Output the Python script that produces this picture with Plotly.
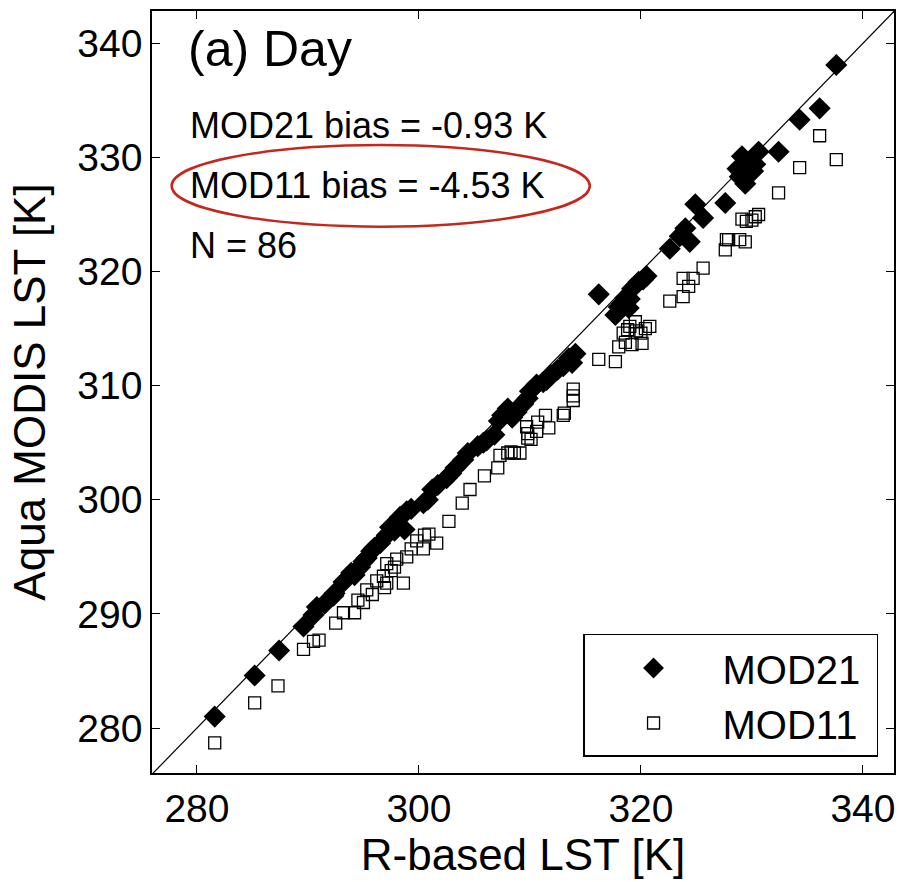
import plotly.graph_objects as go

# MOD21 (filled diamonds): R-based LST vs Aqua MODIS LST
mod21_x = [281.6, 285.2, 287.4, 289.6, 290.5, 290.8, 292.4, 292.3, 293.2, 293.9,
           294.7, 295.3, 295.7, 296.5, 297.1, 297.4, 298.3, 298.9, 298.7, 300.4,
           300.8, 301.7, 302.5, 302.9, 304.0, 304.4, 305.3, 306.1, 306.8, 307.5,
           308.0, 308.8, 309.4, 310.0, 310.6, 311.5, 311.9, 313.0, 313.5, 314.1,
           316.2, 317.7, 318.0, 318.6, 319.2, 319.8, 320.5, 322.6, 323.5, 324.0,
           324.4, 324.9, 325.6, 327.6, 328.9, 329.1, 329.5, 330.1, 329.4, 330.6,
           332.4, 334.3, 336.1, 337.6, 291.5, 294.2, 295.0, 296.0, 297.8, 299.3,
           301.2, 303.3, 305.8, 307.2, 308.4, 309.8, 311.2, 312.5, 313.8, 318.3,
           319.0, 318.9, 320.2, 329.8, 330.3, 328.7]
mod21_y = [281.0, 284.6, 286.8, 288.9, 289.9, 290.6, 291.8, 291.6, 292.8, 293.6,
           294.1, 294.9, 295.5, 296.2, 296.9, 297.6, 298.5, 299.0, 297.4, 299.7,
           300.0, 301.3, 301.9, 302.3, 303.5, 304.1, 304.7, 305.2, 305.7, 307.4,
           308.0, 307.7, 308.4, 309.5, 310.1, 310.5, 310.9, 311.7, 312.4, 312.8,
           318.0, 316.2, 316.9, 317.7, 318.5, 319.1, 319.6, 322.0, 323.1, 323.8,
           322.6, 325.9, 324.7, 326.0, 328.3, 330.1, 329.2, 328.8, 327.7, 330.5,
           330.5, 333.3, 334.3, 338.1, 290.9, 293.4, 294.6, 295.8, 297.3, 299.2,
           300.9, 302.8, 305.0, 306.9, 307.2, 308.9, 310.3, 311.4, 312.0, 317.2,
           317.6, 316.8, 319.3, 329.6, 329.4, 329.0]

# MOD11 (open squares)
mod11_x = [281.6, 285.2, 287.3, 289.6, 290.5, 291.0, 292.5, 293.2, 294.2, 294.5,
           295.3, 295.8, 297.1, 296.8, 297.1, 297.8, 298.6, 298.9, 299.3, 300.4,
           300.5, 301.6, 302.7, 303.9, 304.6, 305.9, 307.1, 307.3, 308.0, 308.6,
           309.1, 309.8, 309.8, 309.7, 310.6, 310.7, 311.7, 311.4, 313.0, 313.9,
           313.9, 313.9, 316.2, 317.7, 318.0, 318.4, 319.0, 319.5, 320.1, 319.2,
           320.0, 320.8, 322.6, 323.8, 324.3, 323.8, 324.7, 325.6, 327.6, 327.7,
           328.9, 329.4, 327.9, 329.1, 330.0, 330.6, 332.4, 334.3, 336.1, 337.6,
           296.2, 297.5, 296.9, 298.0, 299.8, 300.9, 310.1, 313.1, 318.8, 319.6,
           330.3, 329.5, 318.6, 295.0, 308.3, 320.4]
mod11_y = [278.7, 282.2, 283.7, 286.9, 287.6, 287.7, 289.2, 290.1, 290.1, 291.2,
           292.1, 291.7, 292.7, 293.3, 294.4, 294.1, 292.7, 295.0, 295.7, 295.7,
           296.9, 296.2, 298.1, 299.7, 300.9, 302.1, 302.8, 303.9, 304.1, 304.1,
           304.1, 305.4, 305.8, 306.4, 306.0, 306.8, 306.3, 307.4, 307.4, 308.7,
           309.1, 309.7, 312.3, 312.1, 313.4, 314.6, 315.2, 315.6, 313.7, 313.6,
           314.6, 315.2, 317.4, 317.8, 318.7, 319.4, 319.4, 320.3, 321.9, 322.8,
           322.8, 322.6, 322.8, 324.6, 324.5, 325.0, 326.9, 329.1, 331.9, 329.8,
           292.9, 293.8, 292.3, 294.8, 296.4, 297.0, 305.3, 307.6, 314.9, 314.8,
           324.8, 324.4, 313.8, 291.0, 304.2, 315.0]

x_range = [275.95, 342.8]
y_range = [276.06, 342.83]
x_ticks = [280, 300, 320, 340]
y_ticks = [280, 290, 300, 310, 320, 330, 340]
stats_lines = ["MOD21 bias = -0.93 K", "MOD11 bias = -4.53 K", "N = 86"]
panel_title = "(a) Day"
series_names = ["MOD21", "MOD11"]

FONT = "Liberation Sans, Arial, Helvetica, sans-serif"
PAD = "\u00a0"

fig = go.Figure()
fig.add_trace(go.Scatter(
    x=mod21_x, y=mod21_y, mode="markers", name=series_names[0] + PAD,
    marker=dict(symbol="diamond", size=17, color="black", line=dict(width=0)),
))
fig.add_trace(go.Scatter(
    x=mod11_x, y=mod11_y, mode="markers", name=series_names[1] + PAD,
    marker=dict(symbol="square-open", size=12, color="black", line=dict(width=1.3)),
))

# 1:1 line
lo = min(x_range[0], y_range[0]) - 1
hi = max(x_range[1], y_range[1]) + 1
fig.add_shape(type="line", xref="x", yref="y",
              x0=lo, y0=lo, x1=hi, y1=hi,
              line=dict(color="black", width=1.2), layer="below")

# red ellipse around MOD11 bias
fig.add_shape(type="circle", xref="paper", yref="paper",
              x0=0.0265, x1=0.590, y0=0.717, y1=0.824,
              line=dict(color="#c4281c", width=2.5))

fig.add_annotation(text=panel_title, xref="paper", yref="paper", x=0.046, y=0.950,
                   xanchor="left", yanchor="middle", showarrow=False,
                   font=dict(size=50, color="black", family=FONT))
for t, yy in zip(stats_lines, [0.850, 0.771, 0.692]):
    fig.add_annotation(text=t, xref="paper", yref="paper", x=0.049, y=yy,
                       xanchor="left", yanchor="middle", showarrow=False,
                       font=dict(size=36, color="black", family=FONT))

axis_common = dict(
    showgrid=False, zeroline=False, automargin=False,
    showline=True, linecolor="black", linewidth=1.5, mirror="ticks",
    ticks="inside", ticklen=8, tickwidth=1.2, tickcolor="black",
    tickfont=dict(size=39, color="black", family=FONT),
)
fig.update_xaxes(**axis_common, range=x_range, tickvals=x_ticks,
                 title=dict(text="R-based LST [K]", font=dict(size=44, color="black", family=FONT), standoff=10))
fig.update_yaxes(**axis_common, range=y_range, tickvals=y_ticks,
                 title=dict(text="Aqua MODIS LST [K]", font=dict(size=44, color="black", family=FONT), standoff=18))

fig.update_layout(
    width=901, height=882,
    margin=dict(l=152, r=7, t=11, b=109),
    paper_bgcolor="white", plot_bgcolor="white",
    showlegend=True,
    legend=dict(
        x=0.9785, y=0.021, xanchor="right", yanchor="bottom",
        bordercolor="black", borderwidth=1.5, bgcolor="white",
        font=dict(size=40, color="black", family=FONT),
        itemwidth=128,
    ),
)

fig.write_html(
    "out.html",
    config={"displayModeBar": False},
    post_script="document.body.style.margin='0';document.body.style.overflow='hidden';",
)
